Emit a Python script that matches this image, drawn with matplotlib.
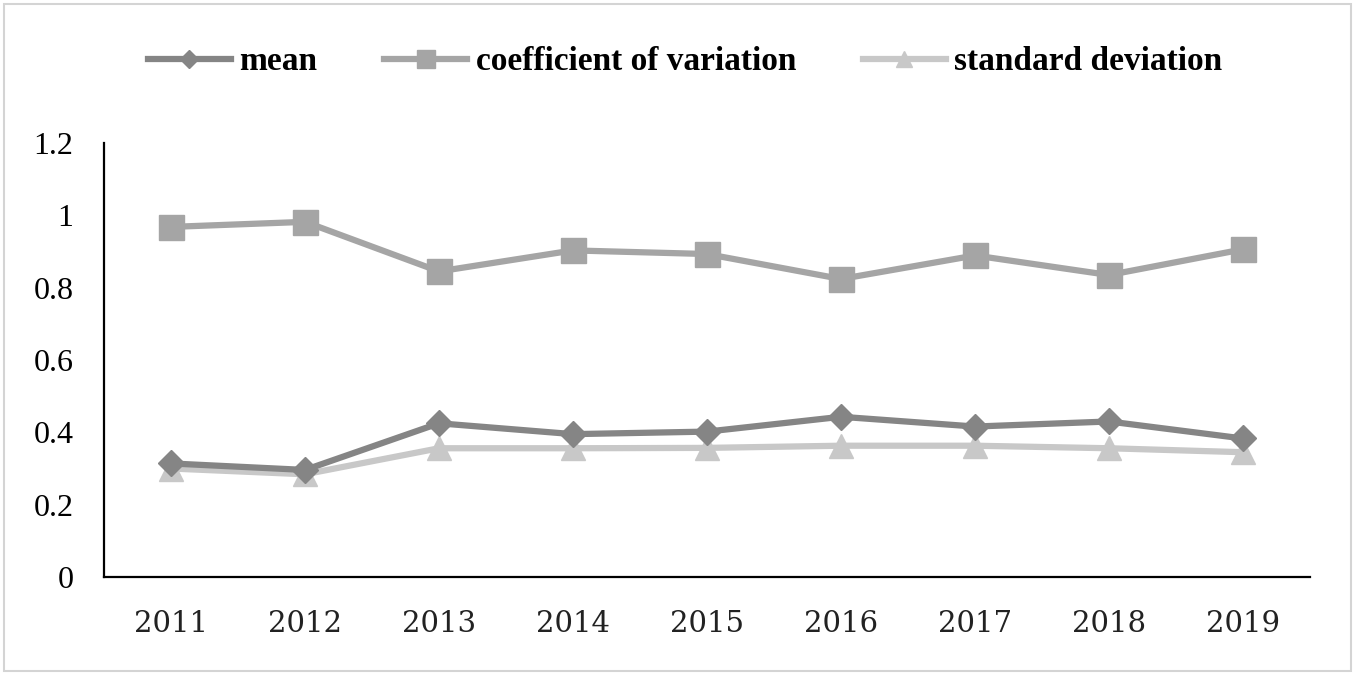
import matplotlib
matplotlib.use("Agg")
import matplotlib.pyplot as plt
from matplotlib.patches import Rectangle

years = ["2011", "2012", "2013", "2014", "2015", "2016", "2017", "2018", "2019"]
mean = [0.314, 0.296, 0.425, 0.395, 0.402, 0.443, 0.416, 0.430, 0.383]
coef_var = [0.968, 0.982, 0.845, 0.903, 0.893, 0.824, 0.889, 0.835, 0.906]
std_dev = [0.300, 0.284, 0.356, 0.356, 0.357, 0.363, 0.363, 0.356, 0.345]
y_ticks = [0, 0.2, 0.4, 0.6, 0.8, 1.0, 1.2]
y_tick_labels = ["0", "0.2", "0.4", "0.6", "0.8", "1", "1.2"]

plt.rcParams['font.family'] = ['Liberation Serif', 'DejaVu Serif']

fig = plt.figure(figsize=(13.56, 6.74), dpi=100)
fig.patches.append(Rectangle((4/1356, 3/674), 1347/1356, 667/674, transform=fig.transFigure,
                             fill=False, edgecolor='#d4d4d4', linewidth=1.5))
ax = fig.add_axes([104/1356, 1-577/674, 1206/1356, 434/674])

x = list(range(len(years)))
c_mean, c_cv, c_sd = '#858585', '#a5a5a5', '#c8c8c8'
ax.plot(x, coef_var, color=c_cv, lw=4.5, marker='s', markersize=18, label='coefficient of variation', zorder=3)
ax.plot(x, std_dev, color=c_sd, lw=4.5, marker='^', markersize=17, label='standard deviation', zorder=4)
ax.plot(x, mean, color=c_mean, lw=4.5, marker='D', markersize=13, label='mean', zorder=5)

ax.set_xlim(-0.5, len(years) - 0.5)
ax.set_ylim(0, 1.2)
ax.set_yticks(y_ticks)
ax.set_yticklabels(y_tick_labels, fontsize=23)
ax.set_xticks(x)
ax.set_xticklabels(years, fontsize=21, family=['DejaVu Serif'], color='#222222')
ax.tick_params(axis='y', length=0, pad=22)
ax.tick_params(axis='x', length=0, pad=24)
for s in ['top', 'right']:
    ax.spines[s].set_visible(False)
for s in ['left', 'bottom']:
    ax.spines[s].set_color('black')
    ax.spines[s].set_linewidth(1.6)

handles, labels = ax.get_legend_handles_labels()
order = [2, 0, 1]
leg = fig.legend([handles[i] for i in order], [labels[i] for i in order],
                 loc='center', bbox_to_anchor=(0.5 + 7/1356, 1-62/674), ncol=3, frameon=False,
                 prop={'weight': 'bold', 'size': 24}, handlelength=2.5, handletextpad=0.25,
                 columnspacing=2.0, markerscale=0.7)

fig.savefig('out.png', dpi=100)
